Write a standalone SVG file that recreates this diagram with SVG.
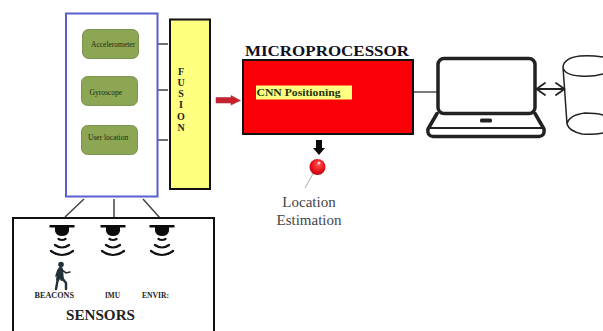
<svg xmlns="http://www.w3.org/2000/svg" width="603" height="331" viewBox="0 0 603 331">
<style>
.s{font-family:"Liberation Serif",serif;fill:#1c2a12;font-size:7.5px}
.b{font-family:"Liberation Serif",serif;font-weight:bold;fill:#222}
.g{fill:#8ca653;stroke:#7d9350;stroke-width:1}
.c{stroke:#444;stroke-width:1.5;fill:none}
.w{fill:none;stroke:#111;stroke-width:2.200;stroke-linecap:round}
.k{fill:none;stroke:#222;stroke-linejoin:round;stroke-linecap:round}
</style>
<defs>
<radialGradient id="pin" cx=".55" cy=".35" r=".7"><stop offset="0" stop-color="#ff5a50"/><stop offset=".6" stop-color="#e8101c"/><stop offset="1" stop-color="#a80812"/></radialGradient>
<g id="beacon">
<path d="M-12.500 0H12.500V2.500H7V6Q6 11 0 11Q-6 11-7 6V2.500H-12.500Z" fill="#0c0c0c"/>
<path class="w" d="M-3.500 14Q0 16 3.500 14M-7 20Q0 25 7 20M-11 26Q0 34 11 26"/>
</g>
</defs>
<rect width="603" height="331" fill="#fff"/>
<g id="connectors">
<path class="c" d="M139 44H168M138 90H168M137 140H168"/>
<path class="c" d="M84 199L65 217M114 199V218M143 199L160 218"/>
<path d="M414 92H437" stroke="#333" stroke-width="1.300"/>
<path d="M216 97.500H231V95.500L240.500 100.500L231 105V103H216Z" fill="#c8202c" stroke="#a83a40" stroke-width=".6"/>
<path d="M316 140H322V148H325L319 155L313 148H316Z" fill="#0a0a0a"/>
<path class="k" stroke-width="1.800" d="M537 89H564M545 83L536.500 89L545 95M556 83L564.500 89L556 95"/>
</g>
<g id="imu-group">
<rect x="66" y="13.500" width="91.500" height="183" fill="#fff" stroke="#5a5fd0" stroke-width="2"/>
</g>
<g id="accelerometer">
<rect class="g" x="82.500" y="29.500" width="56" height="29" rx="6"/>
<text class="s" x="91" y="47">Accelerometer</text>
</g>
<g id="gyroscope">
<rect class="g" x="81.500" y="76.500" width="56" height="29" rx="6"/>
<text class="s" x="89.500" y="95">Gyroscope</text>
</g>
<g id="user-location">
<rect class="g" x="81.500" y="125.500" width="56" height="29" rx="6"/>
<text class="s" x="88" y="140">User location</text>
</g>
<g id="fusion">
<rect x="170" y="19.500" width="40" height="169.500" fill="#ffff80" stroke="#111" stroke-width="2"/>
<g class="b" font-size="10" text-anchor="middle">
<text x="181" y="74.500">F</text><text x="181" y="85.500">U</text><text x="181" y="97">S</text><text x="181" y="107.500">I</text><text x="181" y="119.500">O</text><text x="181" y="130.500">N</text>
</g>
</g>
<g id="microprocessor">
<text class="b" x="245" y="56" font-size="15" style="fill:#101020" textLength="164" lengthAdjust="spacingAndGlyphs">MICROPROCESSOR</text>
<rect x="243" y="60" width="170" height="74" fill="#fb0007" stroke="#111" stroke-width="2"/>
<rect x="256" y="85.500" width="96" height="14" fill="#ffff80"/>
<text class="b" x="256.500" y="96" font-size="10.500" style="fill:#23330e" textLength="84" lengthAdjust="spacingAndGlyphs">CNN Positioning</text>
</g>
<g id="location-estimation">
<path d="M315 170L305 188" stroke="#bbb" stroke-width="1.200"/>
<circle cx="317.500" cy="167" r="8" fill="url(#pin)"/>
<circle cx="319" cy="163" r="1.500" fill="#ffd0d0"/>
<text x="309" y="207" font-family="Liberation Serif,serif" font-size="15" fill="#444" text-anchor="middle">Location</text>
<text x="309" y="225" font-family="Liberation Serif,serif" font-size="15" fill="#444" text-anchor="middle">Estimation</text>
</g>
<g id="laptop">
<rect class="k" x="438" y="58.500" width="97" height="55" rx="6" fill="#fff" stroke-width="3.500"/>
<path class="k" stroke-width="3.500" d="M437 113.500L428 129Q427 136 433 136.500H539Q545 136 544 129L535 113.500"/>
<path class="k" stroke-width="2" d="M430 128H542"/>
<rect x="480" y="118.500" width="12" height="4" rx="1.500" fill="#222"/>
</g>
<g id="database">
<path class="k" stroke-width="1.500" d="M603 57Q590 55 580 56Q564 58 563 67Q564 75 580 76Q592 77 603 74M563 67L567 124Q569 131 582 134Q594 135 603 133M567 124Q569 115 585 113Q596 113 603 115"/>
</g>
<g id="sensors">
<path d="M13 331V218H214V331" fill="#fff" stroke="#111" stroke-width="2"/>
<use href="#beacon" x="62" y="225"/>
<use href="#beacon" x="113" y="225"/>
<use href="#beacon" x="162" y="225"/>
<g fill="#22313a" stroke="#22313a" stroke-linecap="round">
<circle cx="61" cy="264.500" r="2.800" stroke="none"/>
<path d="M60 269L58 279M61 269L62 279" stroke-width="3.800"/>
<path d="M58 278L56 289M62 278L66 283L66 289" stroke-width="2.400" fill="none"/>
<path d="M62 270L66 273L70 272M58 270L56 276" stroke-width="1.600" fill="none"/>
</g>
<text class="b" x="34.500" y="298" font-size="7.500" textLength="39.500" lengthAdjust="spacingAndGlyphs">BEACONS</text>
<text class="b" x="105" y="298" font-size="7.500" textLength="15" lengthAdjust="spacingAndGlyphs">IMU</text>
<text class="b" x="142" y="298" font-size="7.500" textLength="27" lengthAdjust="spacingAndGlyphs">ENVIR:</text>
<text class="b" x="66" y="320" font-size="14" textLength="69" lengthAdjust="spacingAndGlyphs">SENSORS</text>
</g>
</svg>
